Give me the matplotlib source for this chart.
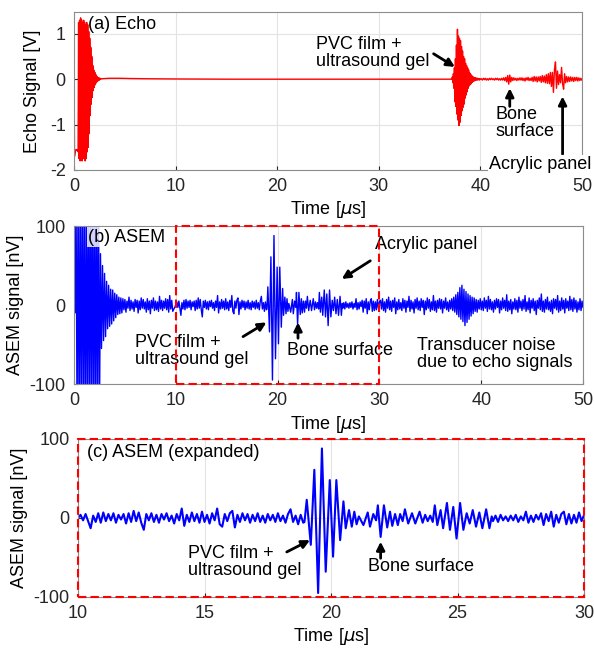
# -*-coding:utf8-*-
import numpy as np
import matplotlib.pyplot as plt
from matplotlib.patches import Rectangle

plt.rcParams['font.family'] = ['Liberation Sans', 'DejaVu Sans']
plt.rcParams['mathtext.fontset'] = 'dejavusans'
plt.rcParams['axes.unicode_minus'] = False

# ---------------- echo signal [V] ----------------
echo_start_t0, echo_start_dt = 0.0, 0.05
echo_start = [0.25, -1.7, -1.62, -1.58, -1.55, -1.56, -1.55, -1.58, -1.6,
              1.25, -1.75, 1.3, -1.8, 1.35, -1.75, 1.3, -1.8, 1.25, -1.75,
              1.3, -1.7, 1.25, -1.8, 1.2, -1.75, 1.25, -1.6, 1.2, -1.5,
              1.05, -1.2, 0.9, -0.8, 0.7, -0.55, 0.5, -0.4, 0.3, -0.25,
              0.2, -0.18, 0.15, -0.12, 0.1, -0.08, 0.06, -0.05, 0.04, -0.03,
              0.03, -0.02, 0.02, 0.0]
echo_quiet_t = [2.7, 3.5, 4.5, 5.5, 7.0, 10.0, 15.0, 20.0, 25.0, 30.0, 35.0, 37.15]
echo_quiet = [0.01, 0.02, 0.02, 0.015, 0.01, 0.005, 0.0, 0.0, 0.0, 0.0, 0.0, 0.0]
echo_pvc_t0, echo_pvc_dt = 37.2, 0.05
echo_pvc = [0.0, 0.05, -0.08, 0.12, -0.2, 0.25, -0.5, 0.45, -0.6, 0.75,
            -0.77, 1.1, -0.9, 0.95, -1.02, 0.9, -0.95, 0.85, -0.8, 0.72,
            -0.7, 0.62, -0.62, 0.5, -0.55, 0.45, -0.42, 0.35, -0.35, 0.3,
            -0.28, 0.25, -0.2, 0.2, -0.15, 0.14, -0.12, 0.11, -0.1, 0.08,
            -0.07, 0.06, -0.05, 0.04, -0.04, 0.03, -0.03, 0.03, -0.02, 0.02,
            -0.02, 0.02, -0.01, 0.01, -0.02, 0.01]
echo_tail_t0, echo_tail_dt = 40.0, 0.1
echo_tail = [0.0,
             0.01, -0.02, 0.02, -0.01, 0.02, -0.02, 0.01, -0.02, 0.02, -0.01,
             0.02, -0.01, 0.01, -0.02, 0.02, -0.01, 0.02, -0.02, 0.01, -0.02,
             0.02, -0.02, 0.03, -0.03, 0.04, -0.06, 0.08, -0.11, 0.09, -0.06,
             0.04, -0.03, 0.03, -0.02, 0.02, -0.03, 0.02, -0.02, 0.03, -0.02,
             0.03, -0.03, 0.02, -0.04, 0.03, -0.02, 0.04, -0.03, 0.02, -0.03,
             0.04, -0.05, 0.06, -0.04, 0.05, -0.06, 0.05, -0.04, 0.06, -0.07,
             0.08, -0.06, 0.07, -0.08, 0.1, -0.09, 0.12, -0.1, 0.15, -0.16,
             0.15, -0.29, 0.2, 0.38, -0.2, 0.18, -0.12, 0.1, -0.08, 0.26,
             -0.1, -0.22, 0.12, -0.08, 0.06, -0.06, 0.05, -0.05, 0.05, -0.04,
             0.04, -0.05, 0.04, -0.03, 0.04, -0.04, 0.03, -0.03, 0.02, -0.02]

# ---------------- ASEM signal [nV] ----------------
asem_0_10_dt = 0.1
asem_0_10 = [5, -10,
             140, -150, 155, -160, 150, -145, 160, -155, 150, -160, 145, -150, 160,
             -155, 150, -145, 155, -160, 150, -150, 145, -155, 160, -150,
             65, -55, 50, -45, 40, -40, 30, -30, 25, -27, 20, -24, 19, -20, 15,
             -16, 13, -12, 10, -11, 9, -10,
             8, -6, 7, -9, 5, -4, 10, -7, 6, -5,
             4, -8, 7, -3, 6, -10, 5, -6, 9, -4,
             7, -5, 4, -9, 8, -6, 5, -11, 6, -4,
             9, -7, 5, -6, 4, -8, 11, -5, 6, -7,
             5, -4, 8, -6, 7, -9, 12, -5, 6, -8]
asem_10_19_dt = 0.1
asem_10_19 = [0, 4, -3, 5, -4, -13, 3, -5, 6, -6,
              7, -4, 5, -3, 6, -6, 4, -2, 5, -7,
              6, -5, 9, -4, 7, -6, -15, 5, -3, 6,
              -5, 4, -6, 5, -2, 6, -4, 3, -7, 5,
              -3, 12, -10, 4, -5, 7, -4, 5, -6, 8,
              -5, 4, -7, 6, -3, 12, -8, -11, 5, -4,
              6, 9, -12, 4, -5, 6, -3, 5, -6, 4,
              -4, 6, -5, 3, -6, 5, -3, 4, -5, 6,
              -4, 3, -6, 5, 11, -5, 3, -8, 4, -6]
asem_burst_t = [18.95, 19.04, 19.20, 19.34, 19.49, 19.64, 19.79, 19.95, 20.08, 20.21,
                20.36, 20.49, 20.58, 20.71, 20.82, 20.92, 21.01, 21.10, 21.20, 21.28,
                21.45, 21.54, 21.67, 21.78, 21.85, 21.96, 22.09, 22.22, 22.33, 22.42,
                22.53, 22.64, 22.73, 22.83, 22.92, 23.05, 23.20, 23.33, 23.50, 23.62,
                23.72, 23.82, 23.92, 24.02, 24.10, 24.20, 24.33, 24.43, 24.58, 24.70,
                24.83, 24.96, 25.10, 25.23, 25.36, 25.48, 25.60, 25.73, 25.86, 25.98,
                26.13, 26.26, 26.35]
asem_burst = [-5, 23, -34, 61, -95, 88, -68, 48, -49, 48,
              -28, 21, -13, 10, -11, 8, -8, 2, -4, -9,
              7, -11, 5, -3, 16, -24, 16, -12, 8, -10,
              5, -9, 5, -4, 11, -7, 6, -7, 8, -6,
              4, -4, 3, -5, 16, -9, 10, -13, 19, -15,
              14, -26, 19, -15, 6, -7, 10, -11, 7, -13,
              11, -13, 2]
asem_26_30_t0, asem_26_30_dt = 26.4, 0.1
asem_26_30 = [-4, 3, -5, 4, -3, 2, -4, 3, -3, 4,
              -5, 2, -3, 8, -6, 3, -5, 4, -2, 6,
              -9, 5, -4, 8, -11, 4, -6, 5, 8, -8,
              5, -7, 4, -6, 7, -4, 4]
asem_30_50_t0, asem_30_50_dt = 30.1, 0.1
asem_30_50 = [6, -5, 8, -7, 4, -9, 7, -4, 10, -6,
              5, -8, 6, -3, 9, -11, 4, -6, 7, -5,
              3, -7, 8, -4, 6, -9, 5, -3, 11, -8,
              6, -5, 4, -10, 7, -4, 9, -6, 5, -7,
              8, -3, 6, -12, 5, -6, 9, -4, 7, -8,
              4, -6, 12, -7, 5, -9, 6, -4, 8, -5,
              7, -10, 5, -4, 9, -6, 4, -8, 6, -5,
              8, -7, 10, -9, 13, -12, 16, -15, 22, -18,
              25, -21, 20, -26, 17, -22, 14, -18, 12, -14,
              10, -11, 9, -8, 7, -9, 6, -5, 8, -6,
              5, -7, 9, -4, 6, -8, 11, -5, 7, -6,
              4, -9, 6, -5, 8, -3, 7, -10, 5, -6,
              9, -4, 6, -7, 13, -8, 5, -6, 7, -11,
              4, -5, 8, -6, 6, -9, 10, -4, 5, -7,
              7, -5, 12, -8, 4, -6, 9, -10, 6, -4,
              8, -7, 5, -12, 6, -4, 9, -6, 14, -8,
              5, -9, 7, -5, 10, -6, 4, -8, 6, -11,
              8, -4, 7, -6, 12, -9, 5, -7, 9, -5,
              6, -10, 8, -4, 5, -7, 11, -6, 7, -8,
              9, -5, 6, -9, 4, -6, 8, -7, 5, -3]


def steps(t0, dt, vals):
    return t0 + dt * np.arange(len(vals))


echo_t = np.concatenate([steps(echo_start_t0, echo_start_dt, echo_start), echo_quiet_t,
                         steps(echo_pvc_t0, echo_pvc_dt, echo_pvc),
                         steps(echo_tail_t0, echo_tail_dt, echo_tail)])
echo_v = np.concatenate([echo_start, echo_quiet, echo_pvc, echo_tail])

zoom_t = np.concatenate([steps(10.0, asem_10_19_dt, asem_10_19), asem_burst_t,
                         steps(asem_26_30_t0, asem_26_30_dt, asem_26_30)])
zoom_v = np.concatenate([asem_10_19, asem_burst, asem_26_30])
asem_t = np.concatenate([steps(0.0, asem_0_10_dt, asem_0_10), zoom_t,
                         steps(asem_30_50_t0, asem_30_50_dt, asem_30_50)])
asem_v = np.concatenate([asem_0_10, zoom_v, asem_30_50])

FS = 13
xlab = r'Time [$\mu$s]'
arrow = dict(arrowstyle='-|>', color='k', lw=2, mutation_scale=12, shrinkA=0, shrinkB=0)


def style(ax):
    ax.grid(True, color='#e3e3e3', lw=0.8)
    ax.set_axisbelow(True)
    for s in ax.spines.values():
        s.set_color('#8c8c8c')
        s.set_linewidth(0.8)
    ax.tick_params(direction='in', length=3, labelsize=FS, colors='#262626', pad=6)


fig = plt.figure(figsize=(5.94, 6.52), dpi=100)

# (a) echo
ax1 = fig.add_axes([0.1246, 0.7393, 0.855, 0.2423])
ax1.plot(echo_t, echo_v, color='#ff0000', lw=1)
ax1.set_xlim(0, 50)
ax1.set_ylim(-2, 1.48)
ax1.set_xticks([0, 10, 20, 30, 40, 50])
ax1.set_yticks([-2, -1, 0, 1])
style(ax1)
ax1.set_ylabel('Echo Signal [V]', fontsize=FS, labelpad=6)
ax1.set_xlabel(xlab, fontsize=FS, labelpad=3)
ax1.text(1.4, 1.2, '(a) Echo', fontsize=FS, va='center')
ax1.annotate('', xy=(37.5, 0.27), xytext=(35.4, 0.56), arrowprops=arrow)
ax1.text(23.8, 0.57, 'PVC film +\nultrasound gel', fontsize=FS, va='center', linespacing=1.0)
ax1.annotate('', xy=(42.9, -0.2), xytext=(42.9, -0.6), arrowprops=arrow)
ax1.text(41.5, -0.97, 'Bone\nsurface', fontsize=FS, va='center', linespacing=1.0)
ax1.annotate('', xy=(48.1, -0.38), xytext=(48.1, -1.65), arrowprops=arrow)
ax1.text(40.9, -1.89, 'Acrylic panel', fontsize=FS, va='center', zorder=5, clip_on=False,
         bbox=dict(fc='white', ec='none', pad=1))

# (b) ASEM
ax2 = fig.add_axes([0.1246, 0.411, 0.857, 0.2423])
ax2.plot(asem_t, asem_v, color='#0000ff', lw=1)
ax2.set_xlim(0, 50)
ax2.set_ylim(-100, 100)
ax2.set_xticks([0, 10, 20, 30, 40, 50])
ax2.set_yticks([-100, 0, 100])
style(ax2)
ax2.set_ylabel('ASEM signal [nV]', fontsize=FS, labelpad=4)
ax2.set_xlabel(xlab, fontsize=FS, labelpad=3)
ax2.add_patch(Rectangle((10, -100), 20, 200, fill=False, ec='#ff0000', lw=1.5,
                        ls=(0, (4, 2)), zorder=4, clip_on=False))
ax2.text(1.4, 86, '(b) ASEM', fontsize=FS, va='center', zorder=5,
         bbox=dict(fc='white', ec='none', alpha=0.8, pad=1))
ax2.text(29.6, 77, 'Acrylic panel', fontsize=FS, va='center')
ax2.annotate('', xy=(26.3, 33), xytext=(29.1, 56), arrowprops=arrow)
ax2.text(6.0, -58, 'PVC film +\nultrasound gel', fontsize=FS, va='center', linespacing=1.0)
ax2.annotate('', xy=(18.9, -22), xytext=(16.6, -40), arrowprops=arrow)
ax2.text(20.9, -58, 'Bone surface', fontsize=FS, va='center')
ax2.annotate('', xy=(22.0, -22), xytext=(22.0, -42), arrowprops=arrow)
ax2.text(33.7, -62, 'Transducer noise\ndue to echo signals', fontsize=FS, va='center',
         linespacing=1.0)

# (c) ASEM expanded
ax3 = fig.add_axes([0.1313, 0.0844, 0.852, 0.2423])
ax3.plot(zoom_t, zoom_v, color='#0000ff', lw=1.5)
ax3.set_xlim(10, 30)
ax3.set_ylim(-100, 100)
ax3.set_xticks([10, 15, 20, 25, 30])
ax3.set_yticks([-100, 0, 100])
style(ax3)
ax3.set_ylabel('ASEM signal [nV]', fontsize=FS, labelpad=4)
ax3.set_xlabel(xlab, fontsize=FS, labelpad=3)
ax3.add_patch(Rectangle((10, -100), 20, 200, fill=False, ec='#ff0000', lw=1.5,
                        ls=(0, (4, 2)), zorder=4, clip_on=False))
ax3.text(10.35, 83, '(c) ASEM (expanded)', fontsize=FS, va='center')
ax3.text(14.35, -56, 'PVC film +\nultrasound gel', fontsize=FS, va='center', linespacing=1.0)
ax3.annotate('', xy=(19.17, -28), xytext=(18.25, -43), arrowprops=arrow)
ax3.text(21.46, -62, 'Bone surface', fontsize=FS, va='center')
ax3.annotate('', xy=(21.96, -30), xytext=(21.96, -51), arrowprops=arrow)

fig.savefig('out.png', dpi=100)
